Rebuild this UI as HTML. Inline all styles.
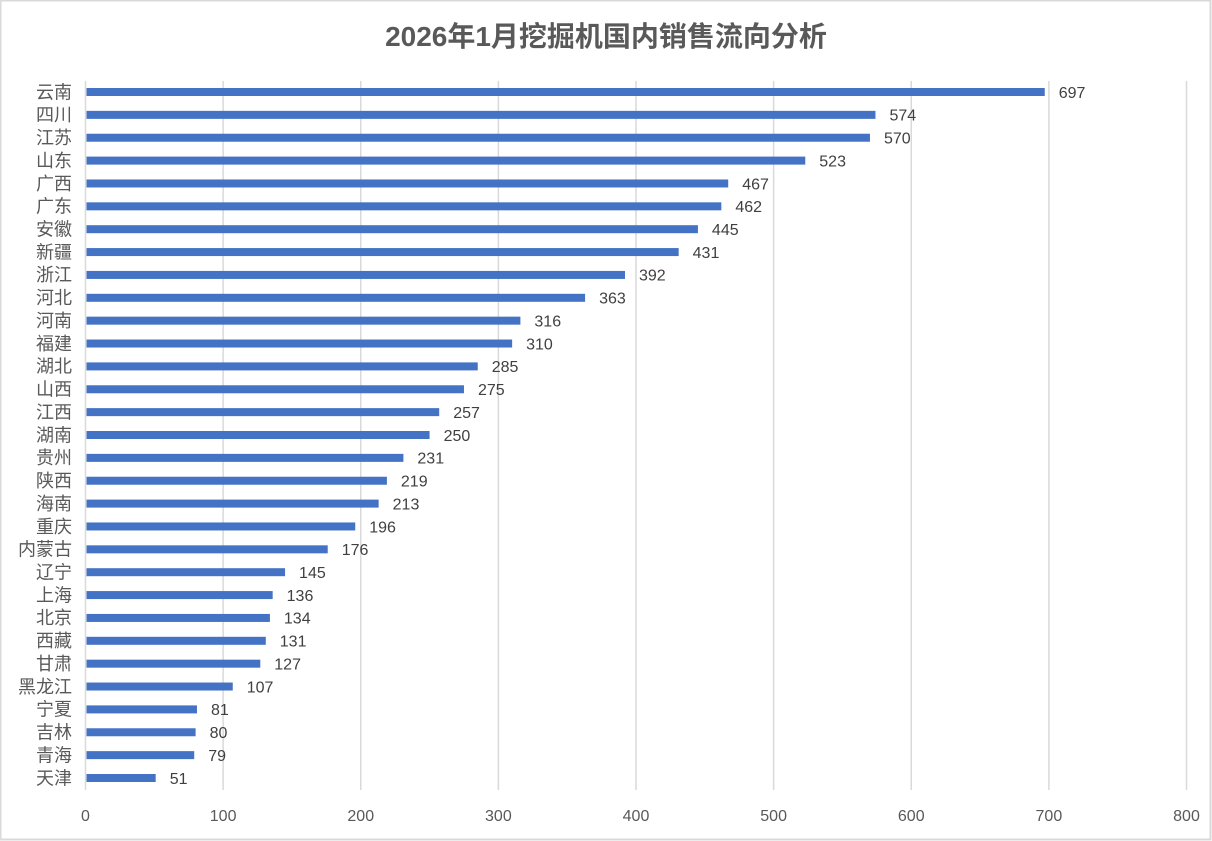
<!DOCTYPE html><html><head><meta charset="utf-8"><style>body{margin:0}svg{display:block}</style></head><body>
<svg width="1212" height="841" xmlns="http://www.w3.org/2000/svg" font-family="'Liberation Sans','Noto Sans CJK SC',sans-serif">
<rect x="0.5" y="0.5" width="1210" height="839" fill="#fff" stroke="#d9d9d9" stroke-width="2"/>
<text x="606" y="46" text-anchor="middle" font-size="28" font-weight="bold" fill="#595959">2026年1月挖掘机国内销售流向分析</text>
<g id="g" stroke="#d9d9d9" stroke-width="1.5"></g>
<g id="b"></g>
</svg>
<script>
const d=[["云南",697],["四川",574],["江苏",570],["山东",523],["广西",467],["广东",462],["安徽",445],["新疆",431],["浙江",392],["河北",363],["河南",316],["福建",310],["湖北",285],["山西",275],["江西",257],["湖南",250],["贵州",231],["陕西",219],["海南",213],["重庆",196],["内蒙古",176],["辽宁",145],["上海",136],["北京",134],["西藏",131],["甘肃",127],["黑龙江",107],["宁夏",81],["吉林",80],["青海",79],["天津",51]];
const ns="http://www.w3.org/2000/svg",g=document.getElementById('g'),b=document.getElementById('b');
const X=v=>85.5+v*1.37625;
for(let t=0;t<=800;t+=100){let l=document.createElementNS(ns,'line');l.setAttribute('x1',X(t));l.setAttribute('x2',X(t));l.setAttribute('y1',81);l.setAttribute('y2',790);g.appendChild(l);
let s=document.createElementNS(ns,'text');s.setAttribute('x',X(t));s.setAttribute('y',821);s.setAttribute('text-anchor','middle');s.setAttribute('font-size','16');s.setAttribute('fill','#595959');s.textContent=t;b.appendChild(s);}
const step=(777.5-91.5)/(d.length-1);
d.forEach(([n,v],i)=>{const y=91.8+i*step;
let r=document.createElementNS(ns,'rect');r.setAttribute('x',86.5);r.setAttribute('y',y-3.8);r.setAttribute('width',X(v)-86.5);r.setAttribute('height',8);r.setAttribute('fill','#4472c4');b.appendChild(r);
let s=document.createElementNS(ns,'text');s.setAttribute('x',X(v)+14);s.setAttribute('y',y+6);s.setAttribute('font-size','16');s.setAttribute('fill','#404040');s.textContent=v;b.appendChild(s);
let c=document.createElementNS(ns,'text');c.setAttribute('x',72);c.setAttribute('y',y+6.5);c.setAttribute('text-anchor','end');c.setAttribute('font-size','18');c.setAttribute('fill','#595959');c.textContent=n;b.appendChild(c);});
</script>
</body></html>
